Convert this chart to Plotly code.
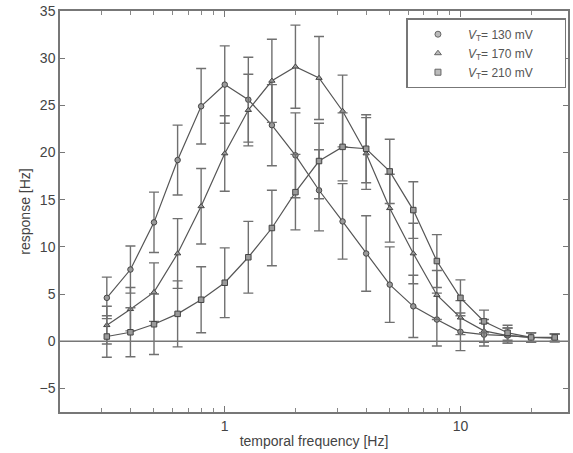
import plotly.graph_objects as go
import math

freq = [0.316, 0.398, 0.501, 0.631, 0.794, 1.0, 1.259, 1.585, 1.995, 2.512,
        3.162, 3.981, 5.012, 6.310, 7.943, 10.0, 12.59, 15.85, 19.95, 25.12]

resp_130 = [4.6, 7.6, 12.6, 19.2, 24.9, 27.2, 25.6, 22.9, 19.7, 16.0,
            12.7, 9.3, 6.0, 3.7, 2.3, 1.0, 0.7, 0.6, 0.4, 0.35]
err_130 = [2.2, 2.5, 3.2, 3.7, 4.0, 4.1, 4.5, 4.3, 4.5, 4.3,
           4.0, 4.0, 4.0, 3.3, 2.8, 2.0, 1.2, 0.8, 0.5, 0.4]

resp_170 = [1.7, 3.4, 5.2, 9.3, 14.3, 19.9, 24.5, 27.6, 29.1, 27.9,
            24.4, 19.9, 14.1, 9.3, 4.9, 2.5, 1.1, 0.6, 0.4, 0.35]
err_170 = [2.0, 2.3, 3.1, 3.7, 4.0, 4.0, 3.8, 4.4, 4.4, 4.4,
           3.8, 3.8, 3.6, 3.2, 2.6, 1.8, 1.2, 0.8, 0.5, 0.4]

resp_210 = [0.5, 0.95, 1.8, 2.9, 4.4, 6.2, 8.9, 12.0, 15.8, 19.1,
            20.6, 20.4, 18.0, 13.9, 8.5, 4.6, 2.1, 0.9, 0.4, 0.4]
err_210 = [2.2, 2.6, 3.2, 3.5, 3.5, 3.7, 3.8, 4.0, 4.0, 4.0,
           3.6, 3.6, 3.4, 3.0, 2.8, 1.9, 1.2, 0.8, 0.5, 0.4]

labels = ["<i>V</i><sub>T</sub>= 130 mV", "<i>V</i><sub>T</sub>= 170 mV", "<i>V</i><sub>T</sub>= 210 mV"]
symbols = ["circle", "triangle-up", "square"]

x_major = [1, 10]
x_minor = [0.2, 0.3, 0.4, 0.5, 0.6, 0.7, 0.8, 0.9, 2, 3, 4, 5, 6, 7, 8, 9, 20]
y_ticks = [-5, 0, 5, 10, 15, 20, 25, 30, 35]

fig = go.Figure()
for ys, es, lab, sym in zip([resp_130, resp_170, resp_210], [err_130, err_170, err_210], labels, symbols):
    fig.add_trace(go.Scatter(
        x=freq, y=ys, name=lab, mode="lines+markers", showlegend=False,
        line=dict(color="#555555", width=1.2),
        marker=dict(symbol=sym, size=5.5, color="#9a9a9a", line=dict(color="#444444", width=1)),
        error_y=dict(type="data", array=es, visible=True, color="#707070", thickness=1.4, width=5),
    ))
for lab, sym in zip(labels, symbols):
    fig.add_trace(go.Scatter(
        x=[None], y=[None], name=lab + "&nbsp;&nbsp;&nbsp;&nbsp;&nbsp;&nbsp;&nbsp;&nbsp;", mode="markers",
        marker=dict(symbol=sym, size=6, color="#bbbbbb", line=dict(color="#666666", width=1)),
    ))

fig.add_hline(y=0, line=dict(color="#777777", width=1.3))

axis_font = dict(family="Liberation Sans, Arial, sans-serif", size=14, color="#444444")
fig.update_layout(
    width=573, height=453,
    margin=dict(l=60, r=3, t=11, b=41),
    paper_bgcolor="white", plot_bgcolor="white",
    font=axis_font,
    showlegend=True,
    legend=dict(x=0.682, y=0.982, xanchor="left", yanchor="top",
                bordercolor="#777777", borderwidth=1.5, bgcolor="white",
                font=dict(family="Liberation Sans, Arial, sans-serif", size=12, color="#555555"),
                itemwidth=50, tracegroupgap=0),
    xaxis=dict(type="log", range=[math.log10(0.2), math.log10(28.6)],
               tickvals=x_major, ticktext=["1", "10"],
               ticks="inside", ticklen=6, tickcolor="#777777",
               showline=True, linecolor="#777777", linewidth=1.5, mirror="ticks",
               showgrid=False, zeroline=False,
               minor=dict(tickvals=x_minor, ticks="inside", ticklen=4, tickcolor="#888888", showgrid=False),
               title=dict(text="temporal frequency [Hz]", standoff=4, font=axis_font)),
    yaxis=dict(range=[-7.5, 35], tickvals=y_ticks,
               ticks="inside", ticklen=5, tickcolor="#777777",
               showline=True, linecolor="#777777", linewidth=1.5, mirror="ticks",
               showgrid=False, zeroline=False,
               title=dict(text="response [Hz]", standoff=6, font=axis_font)),
)

fig.write_html("out.html")
